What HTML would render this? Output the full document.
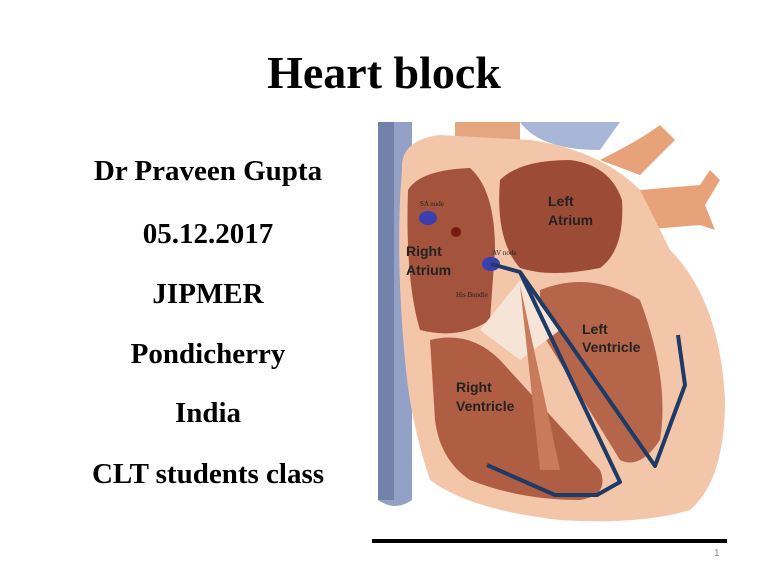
<!DOCTYPE html>
<html><head><meta charset="utf-8"><style>
body{margin:0;width:768px;height:576px;background:#fff;position:relative;overflow:hidden;font-family:"Liberation Serif",serif}
.t{position:absolute;left:0;width:768px;text-align:center;top:46px;font-size:46px;font-weight:bold}
.l{position:absolute;left:58px;width:300px;text-align:center;font-size:29px;font-weight:bold;line-height:30px}
</style></head><body>
<div class="t">Heart block</div>
<div class="l" style="top:156px">Dr Praveen Gupta</div>
<div class="l" style="top:219px">05.12.2017</div>
<div class="l" style="top:279px">JIPMER</div>
<div class="l" style="top:339px">Pondicherry</div>
<div class="l" style="top:398px">India</div>
<div class="l" style="top:459px">CLT students class</div>
<svg width="768" height="576" style="position:absolute;left:0;top:0">
<path d="M378 122 H412 V500 Q395 512 378 500 Z" fill="#93a1c6"/>
<path d="M378 122 H394 V500 H378Z" fill="#7282ab"/>
<path d="M520 122 Q540 150 600 150 L620 122Z" fill="#a8b6d8"/>
<path d="M455 122 H520 V165 H455Z" fill="#e3a67f"/>
<path d="M600 160 Q640 140 660 125 L675 140 Q650 165 640 175Z" fill="#e8a27a"/>
<path d="M640 190 L700 185 L710 170 L720 180 L705 205 L715 230 L700 225 L640 230Z" fill="#e8a27a"/>
<path d="M402 170 Q400 140 440 135 L530 140 Q600 150 640 190 L670 250 Q720 300 725 400 Q725 480 690 510 Q640 525 560 520 Q470 510 430 480 Q410 420 405 360 Q395 250 402 170Z" fill="#f3c6aa"/>
<path d="M408 190 Q420 170 470 168 Q495 190 495 250 L490 320 Q460 340 420 330 Q405 280 408 190Z" fill="#a4533c"/>
<path d="M500 180 Q520 160 570 160 Q610 165 622 200 Q625 250 600 268 Q550 278 520 268 Q495 240 500 180Z" fill="#9c4c36"/>
<path d="M430 340 Q470 330 500 360 L600 470 Q610 495 580 500 Q520 500 470 480 Q440 460 435 420Z" fill="#b05e43"/>
<path d="M540 290 Q590 270 640 300 Q670 380 660 440 Q640 470 620 460 L540 330Z" fill="#b5664a"/>
<path d="M480 330 L520 280 L560 330 L520 360Z" fill="#f6e4d6"/>
<path d="M520 285 L540 470 L560 470Z" fill="#c87a5a"/>
<ellipse cx="428" cy="218" rx="9" ry="7" fill="#3a3fb0"/>
<circle cx="456" cy="232" r="5" fill="#7a1a10"/>
<ellipse cx="491" cy="264" rx="9" ry="7" fill="#3a3fb0"/>
<g fill="none" stroke="#1e3a66" stroke-width="4" stroke-linejoin="round">
<path d="M491 264 L520 272 L620 482 L597 495 L555 495 L487 465"/>
<path d="M520 272 L655 466 L685 385 L678 335"/>
</g>
<g font-family="Liberation Sans,sans-serif" font-weight="bold" font-size="14" fill="#222">
<text x="548" y="206">Left</text><text x="548" y="225">Atrium</text>
<text x="406" y="256">Right</text><text x="406" y="275">Atrium</text>
<text x="582" y="334">Left</text><text x="582" y="352">Ventricle</text>
<text x="456" y="392">Right</text><text x="456" y="411">Ventricle</text>
</g>
<g font-family="Liberation Serif,serif" font-size="7" fill="#222">
<text x="420" y="206">SA node</text><text x="492" y="255">AV node</text><text x="456" y="297">His Bundle</text>
</g>
<rect x="372" y="539" width="355" height="4" fill="#000"/>
<text x="714" y="556" font-family="Liberation Sans,sans-serif" font-size="10" fill="#888">1</text>
</svg>
</body></html>
